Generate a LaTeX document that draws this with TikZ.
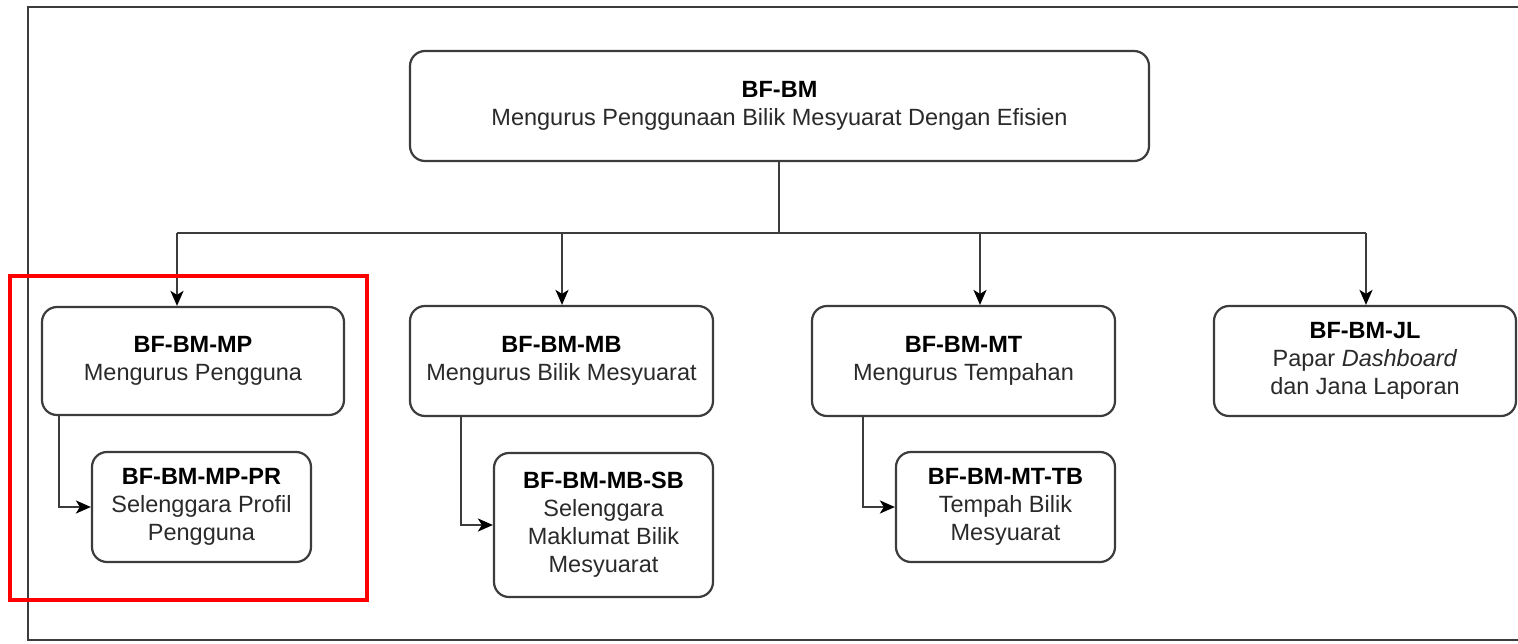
\documentclass[tikz,border=0pt]{standalone}
\usepackage{fontspec}
\setmainfont{Liberation Sans}
\usetikzlibrary{arrows.meta}
\definecolor{linegray}{HTML}{3C3C3C}
\definecolor{txtgray}{HTML}{2A2A2A}
\tikzset{
  fbox/.style={draw=linegray, line width=2.2pt, rounded corners=15pt, fill=white,
    align=center, inner sep=0pt, text=txtgray,
    font=\fontsize{23.5}{28}\selectfont},
  conn/.style={draw=linegray, line width=2.1pt},
  arr/.style={conn, -{Stealth[length=15pt,width=13pt,inset=4pt,color=black]}},
  frameline/.style={draw=linegray, line width=2.4pt},
  hilite/.style={draw=red, line width=4.5pt}
}
\newcommand{\hd}[1]{\textbf{\color{black}#1}}
\begin{document}
\begin{tikzpicture}[x=1pt,y=-1pt]
\useasboundingbox (0,0) rectangle (1518,643);
\fill[white] (0,0) rectangle (1518,643);
% outer frame (right side runs off the picture)
\draw[frameline] (1530,7) -- (28,7) -- (28,640) -- (1530,640);

\node[fbox, minimum width=739pt, minimum height=110pt] (top) at (779.5,106)
  {\hd{BF-BM}\\Mengurus Penggunaan Bilik Mesyuarat Dengan Efisien};

\node[fbox, minimum width=302pt, minimum height=108pt] (mp) at (193,361)
  {\hd{BF-BM-MP}\\Mengurus Pengguna};
\node[fbox, minimum width=303pt, minimum height=110pt] (mb) at (561.5,361)
  {\hd{BF-BM-MB}\\Mengurus Bilik Mesyuarat};
\node[fbox, minimum width=303pt, minimum height=110pt] (mt) at (963.5,361)
  {\hd{BF-BM-MT}\\Mengurus Tempahan};
\node[fbox, minimum width=302pt, minimum height=110pt] (jl) at (1365,361)
  {\hd{BF-BM-JL}\\Papar \textit{Dashboard}\\dan Jana Laporan};

\node[fbox, minimum width=219pt, minimum height=110pt] (pr) at (201.5,507)
  {\hd{BF-BM-MP-PR}\\Selenggara Profil\\Pengguna};
\node[fbox, minimum width=219pt, minimum height=144pt] (sb) at (603.5,525)
  {\hd{BF-BM-MB-SB}\\Selenggara\\Maklumat Bilik\\Mesyuarat};
\node[fbox, minimum width=219pt, minimum height=110pt] (tb) at (1005.5,507)
  {\hd{BF-BM-MT-TB}\\Tempah Bilik\\Mesyuarat};

% bus
\coordinate (trunk) at (779,233);
\coordinate (b1) at (177,233);
\coordinate (b2) at (562,233);
\coordinate (b3) at (980,233);
\coordinate (b4) at (1366,233);
\draw[conn] (trunk |- top.south) -- (trunk);
\draw[conn] (b1) -- (b4);
\draw[arr] (b1) -- (b1 |- mp.north);
\draw[arr] (b2) -- (b2 |- mb.north);
\draw[arr] (b3) -- (b3 |- mt.north);
\draw[arr] (b4) -- (b4 |- jl.north);

% sub connectors
\coordinate (s1) at (59,0);
\coordinate (s2) at (461,0);
\coordinate (s3) at (863,0);
\draw[arr] (s1 |- mp.south) -- (s1 |- pr.west) -- (pr.west);
\draw[arr] (s2 |- mb.south) -- (s2 |- sb.west) -- (sb.west);
\draw[arr] (s3 |- mt.south) -- (s3 |- tb.west) -- (tb.west);

% highlight
\draw[hilite] (10,276) rectangle (367,600);
\end{tikzpicture}
\end{document}
